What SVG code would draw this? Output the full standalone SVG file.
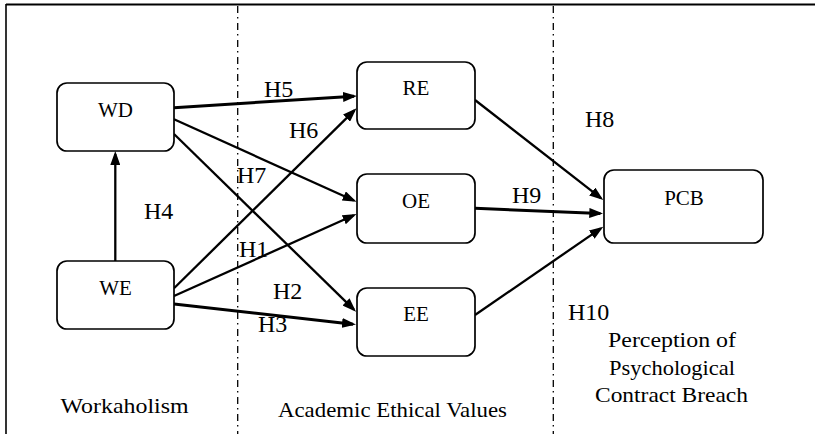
<svg xmlns="http://www.w3.org/2000/svg" width="815" height="434" viewBox="0 0 815 434">
<style>
.node rect{fill:#fff;stroke:#000;stroke-width:1.7}
text{font-family:'Liberation Serif','Times New Roman',serif;fill:#000}
.nl{font-size:21px;text-anchor:middle}
.h{font-size:24px}
.lab{font-size:22px;text-anchor:middle}
.ed line{stroke:#000;stroke-width:2.3;fill:none;marker-end:url(#ah)}
.ed line.thick{stroke-width:3}
.div{stroke:#000;stroke-width:1.3;stroke-dasharray:7 4 1.5 4.5}
</style>
<defs>
<marker id="ah" markerUnits="userSpaceOnUse" markerWidth="14" markerHeight="10" viewBox="0 0 14 10" refX="11" refY="5" orient="auto">
<path d="M0,0 L14,5 L0,10 z" fill="#000"/>
</marker>
</defs>
<rect width="815" height="434" fill="#fff"/>
<g id="frame">
<line x1="6" y1="4.5" x2="815" y2="4.5" stroke="#000" stroke-width="2"/>
<line x1="6" y1="4" x2="6" y2="434" stroke="#000" stroke-width="1.6"/>
<line class="div" x1="237.7" y1="6" x2="237.7" y2="434"/>
<line class="div" x1="553.3" y1="6" x2="553.3" y2="434"/>
</g>
<g id="connectors" class="ed">
<line class="thick" x1="174" y1="107.7" x2="354" y2="96.2"/>
<line x1="174" y1="119.3" x2="353.8" y2="200.5"/>
<line x1="174" y1="134" x2="353.9" y2="309.6"/>
<line x1="174" y1="288.3" x2="354.4" y2="110.4"/>
<line x1="174" y1="296" x2="353.8" y2="215.2"/>
<line class="thick" x1="174" y1="304" x2="353" y2="324.2"/>
<line x1="475" y1="100" x2="600.9" y2="198.2"/>
<line class="thick" x1="475" y1="208.3" x2="600.3" y2="213.4"/>
<line x1="475" y1="315" x2="600.8" y2="228.4"/>
<line x1="115.3" y1="261" x2="115.3" y2="154"/>
</g>
<g id="WD" class="node"><rect x="57" y="83" width="117" height="68" rx="10"/><text class="nl" x="115.5" y="117">WD</text></g>
<g id="WE" class="node"><rect x="57" y="261" width="117" height="68" rx="10"/><text class="nl" x="115.5" y="295">WE</text></g>
<g id="RE" class="node"><rect x="357" y="62" width="118" height="67" rx="10"/><text class="nl" x="416" y="95">RE</text></g>
<g id="OE" class="node"><rect x="357" y="174" width="118" height="69" rx="10"/><text class="nl" x="416" y="208">OE</text></g>
<g id="EE" class="node"><rect x="357" y="288" width="118" height="68" rx="10"/><text class="nl" x="416" y="321">EE</text></g>
<g id="PCB" class="node"><rect x="604" y="170" width="159" height="73" rx="10"/><text class="nl" x="684" y="205">PCB</text></g>
<g id="labels">
<text class="h" x="264" y="97">H5</text>
<text class="h" x="289" y="138">H6</text>
<text class="h" x="237" y="183">H7</text>
<text class="h" x="144" y="219">H4</text>
<text class="h" x="239" y="257">H1</text>
<text class="h" x="273" y="299">H2</text>
<text class="h" x="258" y="332">H3</text>
<text class="h" x="585" y="127">H8</text>
<text class="h" x="512" y="203">H9</text>
<text class="h" x="568" y="320">H10</text>
<text class="lab" x="124.5" y="413" textLength="128" lengthAdjust="spacingAndGlyphs">Workaholism</text>
<text class="lab" x="392.5" y="417" textLength="229" lengthAdjust="spacingAndGlyphs">Academic Ethical Values</text>
<text class="lab" x="672" y="347" textLength="128" lengthAdjust="spacingAndGlyphs">Perception of</text>
<text class="lab" x="672" y="375" textLength="126" lengthAdjust="spacingAndGlyphs">Psychological</text>
<text class="lab" x="671.5" y="402" textLength="153" lengthAdjust="spacingAndGlyphs">Contract Breach</text>
</g>
</svg>
